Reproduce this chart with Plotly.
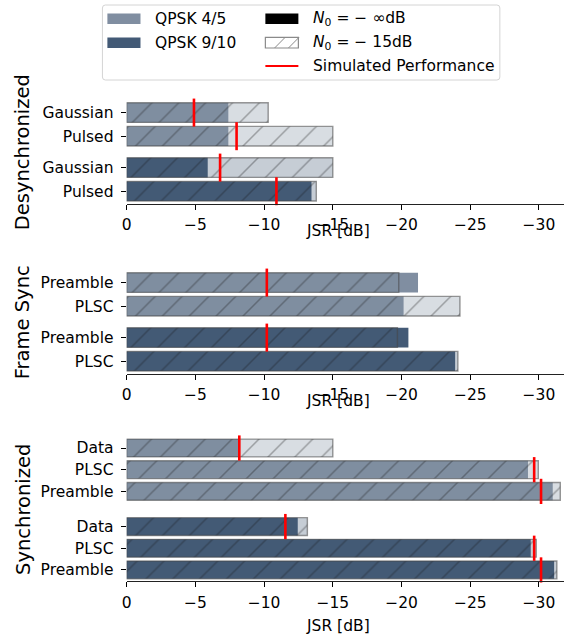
import plotly.graph_objects as go

W, H = 564, 639

# ---------------------------------------------------------------------------
# Data: jammer-to-signal ratio thresholds in dB
#   *_clean : N0 = -inf dB (no thermal noise)
#   *_noisy : N0 = -15 dB
#   *_sim   : simulated performance marker (None = not simulated)
# ---------------------------------------------------------------------------
desync_rows = ["Gaussian", "Pulsed"]
frame_rows = ["Preamble", "PLSC"]
sync_rows = ["Data", "PLSC", "Preamble"]

desync_45_clean = [-7.4, -7.4]
desync_45_noisy = [-10.3, -15.0]
desync_45_sim = [-4.9, -8.0]
desync_910_clean = [-5.9, -13.45]
desync_910_noisy = [-15.0, -13.8]
desync_910_sim = [-6.8, -10.9]

frame_45_clean = [-21.2, -20.15]
frame_45_noisy = [-19.8, -24.25]
frame_45_sim = [-10.2, None]
frame_910_clean = [-20.5, -23.9]
frame_910_noisy = [-19.7, -24.1]
frame_910_sim = [-10.2, None]

sync_45_clean = [-8.2, -29.2, -31.0]
sync_45_noisy = [-15.0, -29.95, -31.55]
sync_45_sim = [-8.2, -29.65, -30.15]
sync_910_clean = [-12.45, -29.4, -31.1]
sync_910_noisy = [-13.15, -29.8, -31.3]
sync_910_sim = [-11.55, -29.65, -30.15]

x_ticks = [0, -5, -10, -15, -20, -25, -30]

# ---------------------------------------------------------------------------
# Styling
# ---------------------------------------------------------------------------
FONT = "DejaVu Sans"
C45 = (128, 142, 161)
C910 = (67, 90, 118)


def rgb(c, a=1.0):
    return f"rgba({c[0]},{c[1]},{c[2]},{a})"


def fx(px):
    return px / W


def fy(py):
    return 1 - py / H


panels = [
    dict(title="Desynchronized", rows=desync_rows, gap=0.33, bw=0.83, ms=20,
         dom=(101.25, 203.5), rng=(3.85, -0.48), xlab_y=231,
         series=[(C45, desync_45_clean, desync_45_noisy, desync_45_sim),
                 (C910, desync_910_clean, desync_910_noisy, desync_910_sim)]),
    dict(title="Frame Sync", rows=frame_rows, gap=0.33, bw=0.83, ms=20,
         dom=(271.25, 373.5), rng=(3.85, -0.48), xlab_y=401,
         series=[(C45, frame_45_clean, frame_45_noisy, frame_45_sim),
                 (C910, frame_910_clean, frame_910_noisy, frame_910_sim)]),
    dict(title="Synchronized", rows=sync_rows, gap=0.62, bw=0.82, ms=18,
         dom=(437.15, 581.0), rng=(6.13, -0.5), xlab_y=626,
         series=[(C45, sync_45_clean, sync_45_noisy, sync_45_sim),
                 (C910, sync_910_clean, sync_910_noisy, sync_910_sim)]),
]

fig = go.Figure()
layout = dict(
    width=W, height=H,
    margin=dict(l=0, r=0, t=0, b=0),
    paper_bgcolor="white", plot_bgcolor="white",
    barmode="overlay", showlegend=False,
    font=dict(family=FONT, size=15.5, color="black"),
)
annotations = []
shapes = []

for k, p in enumerate(panels, start=1):
    sfx = "" if k == 1 else str(k)
    xa, ya = f"x{sfx}", f"y{sfx}"
    n = len(p["rows"])
    tickvals, ticktext = [], []
    for g, (col, clean, noisy, sim) in enumerate(p["series"]):
        pos = [i + g * (n + p["gap"]) for i in range(n)]
        tickvals += pos
        ticktext += p["rows"]
        # N0 = -inf dB: solid bar
        fig.add_trace(go.Bar(
            x=clean, y=pos, orientation="h", width=p["bw"],
            marker=dict(color=rgb(col), line=dict(width=0)),
            xaxis=xa, yaxis=ya, hoverinfo="x+y"))
        # N0 = -15 dB: translucent hatched bar drawn on top
        fig.add_trace(go.Bar(
            x=noisy, y=pos, orientation="h", width=p["bw"],
            marker=dict(color=rgb(col, 0.3),
                        line=dict(color="rgba(70,70,70,0.55)", width=1.4),
                        pattern=dict(shape="/", fillmode="overlay",
                                     fgcolor="rgba(25,25,25,0.65)",
                                     size=19, solidity=0.08)),
            xaxis=xa, yaxis=ya, hoverinfo="x+y"))
        # simulated performance tick
        fig.add_trace(go.Scatter(
            x=sim, y=pos, mode="markers",
            marker=dict(symbol="line-ns", size=p["ms"],
                        line=dict(color="#ff0000", width=2.6)),
            xaxis=xa, yaxis=ya, hoverinfo="x+y", cliponaxis=False))

    d0, d1 = p["dom"]
    layout[f"xaxis{sfx}"] = dict(
        domain=[fx(122.7), 1.0], range=[0, -31.82], anchor=ya,
        tickmode="array", tickvals=x_ticks,
        ticks="outside", ticklen=5, tickwidth=1.1, tickcolor="#000",
        ticklabelstandoff=2,
        showline=True, linecolor="#222", linewidth=1.2,
        showgrid=False, zeroline=False,
        tickfont=dict(family=FONT, size=15.5, color="black"))
    layout[f"yaxis{sfx}"] = dict(
        domain=[fy(d1), fy(d0)], range=list(p["rng"]), anchor=xa,
        tickmode="array", tickvals=tickvals, ticktext=ticktext,
        ticks="outside", ticklen=5, tickwidth=1.1, tickcolor="#000",
        ticklabelstandoff=4,
        showline=False, showgrid=False, zeroline=False,
        tickfont=dict(family=FONT, size=15.5, color="black"))

    # axis titles
    annotations.append(dict(
        text=p["title"], textangle=-90, xref="paper", yref=f"{ya} domain",
        x=fx(18), y=0.5, xanchor="center", yanchor="middle", showarrow=False,
        font=dict(family=FONT, size=19.5, color="black")))
    annotations.append(dict(
        text="JSR [dB]", xref="paper", yref="paper",
        x=fx(336), y=fy(p["xlab_y"]), xanchor="center", yanchor="middle",
        showarrow=False, font=dict(family=FONT, size=15.5, color="black")))

# ---------------------------------------------------------------------------
# Legend (two columns inside a rounded frame)
# ---------------------------------------------------------------------------
bx0, by0, bx1, by1 = 98.3, 5.0, 499.3, 80.0
rx, ry = 3 / W, 3 / H
X0, X1, Y0, Y1 = fx(bx0), fx(bx1), fy(by1), fy(by0)
frame_path = (f"M{X0+rx},{Y1} L{X1-rx},{Y1} Q{X1},{Y1} {X1},{Y1-ry} "
              f"L{X1},{Y0+ry} Q{X1},{Y0} {X1-rx},{Y0} L{X0+rx},{Y0} "
              f"Q{X0},{Y0} {X0},{Y0+ry} L{X0},{Y1-ry} Q{X0},{Y1} {X0+rx},{Y1} Z")
shapes.append(dict(type="path", xref="paper", yref="paper", path=frame_path,
                   fillcolor="rgba(255,255,255,0.8)",
                   line=dict(color="#d4d4d4", width=1)))


def patch(x0, y0, x1, y1, fill, line_color=None, lw=0):
    shapes.append(dict(type="rect", xref="paper", yref="paper",
                       x0=fx(x0), x1=fx(x1), y0=fy(y1), y1=fy(y0),
                       fillcolor=fill,
                       line=dict(color=line_color or fill, width=lw)))


def seg(x0, y0, x1, y1, color, lw):
    shapes.append(dict(type="line", xref="paper", yref="paper",
                       x0=fx(x0), x1=fx(x1), y0=fy(y0), y1=fy(y1),
                       line=dict(color=color, width=lw)))


rows_y = [18.7, 42.7, 66.0]
c1_px, c2_px = (103.3, 136.7), (262.7, 296.0)
half = 5.3

patch(c1_px[0], rows_y[0] - half, c1_px[1], rows_y[0] + half, rgb(C45))
patch(c1_px[0], rows_y[1] - half, c1_px[1], rows_y[1] + half, rgb(C910))
patch(c2_px[0], rows_y[0] - half, c2_px[1], rows_y[0] + half, "black")
patch(c2_px[0], rows_y[1] - half, c2_px[1], rows_y[1] + half, "white",
      line_color="#8a8a8a", lw=1.2)
for bx in (272.0, 286.0):
    seg(bx, rows_y[1] + half, bx + 2 * half, rows_y[1] - half, "#8a8a8a", 1)
seg(c2_px[0], rows_y[2], c2_px[1], rows_y[2], "#ff0000", 2)

legend_texts = [
    (149.3, rows_y[0], "QPSK 4/5"),
    (149.3, rows_y[1], "QPSK 9/10"),
    (308.3, rows_y[0], "<i>N</i><sub>0</sub> = − ∞dB"),
    (308.3, rows_y[1], "<i>N</i><sub>0</sub> = − 15dB"),
    (308.3, rows_y[2], "Simulated Performance"),
]
for x, y, t in legend_texts:
    annotations.append(dict(
        text=t, xref="paper", yref="paper", x=fx(x), y=fy(y),
        xanchor="left", yanchor="middle", showarrow=False,
        font=dict(family=FONT, size=15.5, color="black")))

layout["annotations"] = annotations
layout["shapes"] = shapes
fig.update_layout(**layout)

fig.write_html("out.html")
